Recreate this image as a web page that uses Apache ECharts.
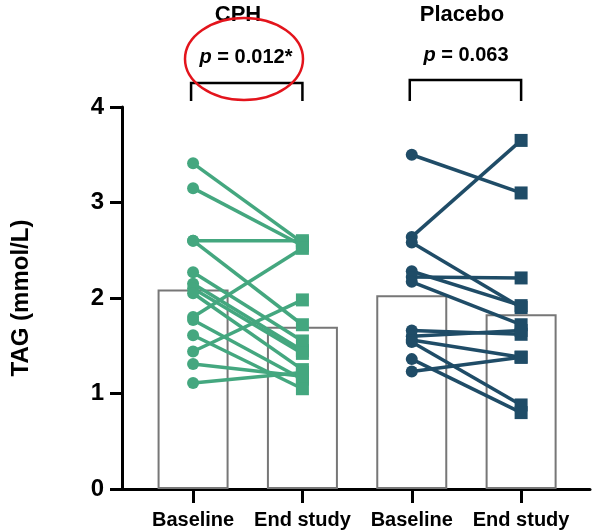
<!DOCTYPE html>
<html>
<head>
<meta charset="utf-8">
<script src="https://cdn.jsdelivr.net/npm/echarts@6/dist/echarts.min.js"></script>
<style>
  html, body { margin: 0; padding: 0; background: #fff; }
  #chart { width: 595px; height: 532px; }
</style>
</head>
<body>
<div id="chart"></div>
<script>
// Timepoint labels along the x axis (positions 1..4)
const timepoints = ['Baseline', 'End study', 'Baseline', 'End study'];
const groups = ['CPH', 'Placebo'];
const pValues = ['0.012*', '0.063'];

// Group means (bars)
const cphMeans = [2.09, 1.70];
const placeboMeans = [2.03, 1.83];

// Individual TAG values, paired baseline -> end study
const cphBaseline = [3.41, 3.15, 2.60, 2.60, 2.27, 2.15, 2.10, 2.05, 1.80, 1.77, 1.61, 1.44, 1.31, 1.11];
const cphEnd      = [2.58, 2.55, 2.60, 1.72, 1.55, 1.45, 1.42, 1.25, 2.52, 1.15, 1.05, 1.98, 1.18, 1.22];
const placeboBaseline = [3.50, 2.64, 2.58, 2.28, 2.22, 2.17, 1.66, 1.60, 1.56, 1.54, 1.36, 1.23];
const placeboEnd      = [3.10, 3.65, 1.90, 1.92, 2.21, 1.72, 1.62, 1.66, 1.38, 0.88, 0.80, 1.38];

const yTicks = [0, 1, 2, 3, 4];

const GREEN = '#44a77f';
const BLUE = '#1f4c67';
const FONT = '"Liberation Sans", Arial, sans-serif';

const chart = echarts.init(document.getElementById('chart'));

function pairSeries(base, end, xb, xe, color) {
  return base.map((b, i) => ({
    type: 'line',
    z: 3,
    silent: true,
    animation: false,
    lineStyle: { color: color, width: 3.5 },
    itemStyle: { color: color },
    data: [
      { value: [xb, b], symbol: 'circle', symbolSize: 12 },
      { value: [xe, end[i]], symbol: 'rect', symbolSize: [13, 13] }
    ]
  }));
}

const barData = [
  [1, cphMeans[0]], [2, cphMeans[1]],
  [3, placeboMeans[0]], [4, placeboMeans[1]]
];

const option = {
  backgroundColor: '#fff',
  animation: false,
  grid: { left: 122, right: 5, top: 107, bottom: 43 },
  xAxis: {
    type: 'value',
    min: 0.35,
    max: 4.63,
    splitLine: { show: false },
    axisLine: { show: true, lineStyle: { color: '#000', width: 3 } },
    axisTick: {
      show: true, length: 14, lineStyle: { color: '#000', width: 3 },
      customValues: [1, 2, 3, 4]
    },
    axisLabel: {
      customValues: [1, 2, 3, 4],
      formatter: v => timepoints[Math.round(v) - 1] || '',
      color: '#000', fontFamily: FONT, fontWeight: 'bold', fontSize: 20, margin: 21
    }
  },
  yAxis: {
    type: 'value',
    min: yTicks[0],
    max: yTicks[yTicks.length - 1],
    interval: 1,
    name: 'TAG (mmol/L)',
    nameLocation: 'middle',
    nameGap: 89,
    nameTextStyle: { color: '#000', fontFamily: FONT, fontWeight: 'bold', fontSize: 24 },
    splitLine: { show: false },
    axisLine: { show: true, lineStyle: { color: '#000', width: 3 } },
    axisTick: { show: true, length: 12, lineStyle: { color: '#000', width: 3 } },
    axisLabel: { color: '#000', fontFamily: FONT, fontWeight: 'bold', fontSize: 24, margin: 18 }
  },
  series: [
    {
      type: 'bar',
      z: 1,
      silent: true,
      barWidth: 71,
      itemStyle: { color: '#fff', borderColor: '#777', borderWidth: 2 },
      data: barData
    }
  ].concat(pairSeries(cphBaseline, cphEnd, 1, 2, GREEN))
   .concat(pairSeries(placeboBaseline, placeboEnd, 3, 4, BLUE))
};

chart.setOption(option);

// Group titles, p-value brackets and highlight ring above the plot
const px = v => chart.convertToPixel({ xAxisIndex: 0 }, v);
const bracketY = [83, 80];
const bracketBottom = 101;
const titleX = [238, 462];
const pX = [246, 466];
const graphics = [];
groups.forEach((g, i) => {
  const x1 = px(1 + i * 2), x2 = px(2 + i * 2);
  graphics.push({
    type: 'text', x: titleX[i], y: 15,
    style: { text: g, font: 'bold 22px ' + FONT, fill: '#000', align: 'center', verticalAlign: 'middle' }
  });
  graphics.push({
    type: 'text', x: pX[i], y: 57 - i * 2,
    style: {
      text: '{i|p} = ' + pValues[i],
      font: 'bold 20px ' + FONT, fill: '#000', align: 'center', verticalAlign: 'middle',
      rich: { i: { fontStyle: 'italic', fontWeight: 'bold', fontSize: 20, fontFamily: FONT } }
    }
  });
  graphics.push({
    type: 'polyline',
    shape: { points: [[x1 - 2, bracketBottom], [x1 - 2, bracketY[i]], [x2, bracketY[i]], [x2, bracketBottom]] },
    style: { stroke: '#000', lineWidth: 2.5, fill: null }
  });
});
graphics.push({
  type: 'ellipse',
  shape: { cx: 244, cy: 59, rx: 59, ry: 41 },
  style: { fill: null, stroke: '#e3141c', lineWidth: 2.5 }
});
chart.setOption({ graphic: graphics });
</script>
</body>
</html>
